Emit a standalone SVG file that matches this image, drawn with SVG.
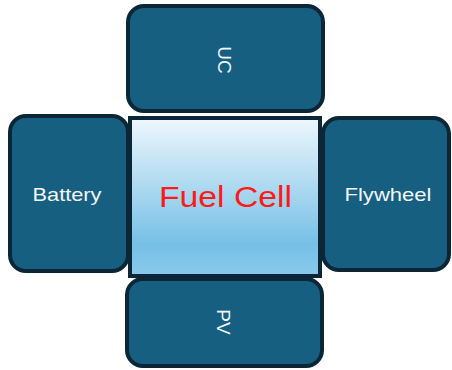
<svg xmlns="http://www.w3.org/2000/svg" width="452" height="370" viewBox="0 0 452 370">
  <defs>
    <linearGradient id="fcGrad" x1="0" y1="0" x2="0" y2="1">
      <stop offset="0" stop-color="#eef7fd"/>
      <stop offset="0.8" stop-color="#76c0e6"/>
      <stop offset="1" stop-color="#8acaeb"/>
    </linearGradient>
  </defs>
  <style>
    .box { fill: #175f80; stroke: #0b2636; stroke-width: 4; }
    .core { fill: url(#fcGrad); stroke: #0b2636; stroke-width: 4; }
    .lbl { fill: #f2f6f8; font-family: "Liberation Sans", Arial, sans-serif; font-size: 19px; text-anchor: middle; }
    .main { fill: #ff1a1a; font-family: "Liberation Sans", Arial, sans-serif; font-size: 29px; text-anchor: middle; }
  </style>
  <g id="connectors"></g>
  <g id="uc">
    <rect class="box" x="128" y="6" width="195" height="105" rx="16"/>
    <text class="lbl" transform="translate(218,60) rotate(90)" x="0" y="0">UC</text>
  </g>
  <g id="battery">
    <rect class="box" x="10" y="116" width="118" height="155" rx="16"/>
    <text class="lbl" x="67" y="201" textLength="69" lengthAdjust="spacingAndGlyphs">Battery</text>
  </g>
  <g id="flywheel">
    <rect class="box" x="323" y="118" width="126" height="152" rx="16"/>
    <text class="lbl" x="388" y="201" textLength="87" lengthAdjust="spacingAndGlyphs">Flywheel</text>
  </g>
  <g id="pv">
    <rect class="box" x="127" y="279" width="195" height="87" rx="16"/>
    <text class="lbl" transform="translate(217,322) rotate(90)" x="0" y="0">PV</text>
  </g>
  <g id="fuelcell">
    <rect class="core" x="130" y="118" width="190" height="158"/>
    <text class="main" x="225.5" y="207" textLength="133" lengthAdjust="spacingAndGlyphs">Fuel Cell</text>
  </g>
</svg>
